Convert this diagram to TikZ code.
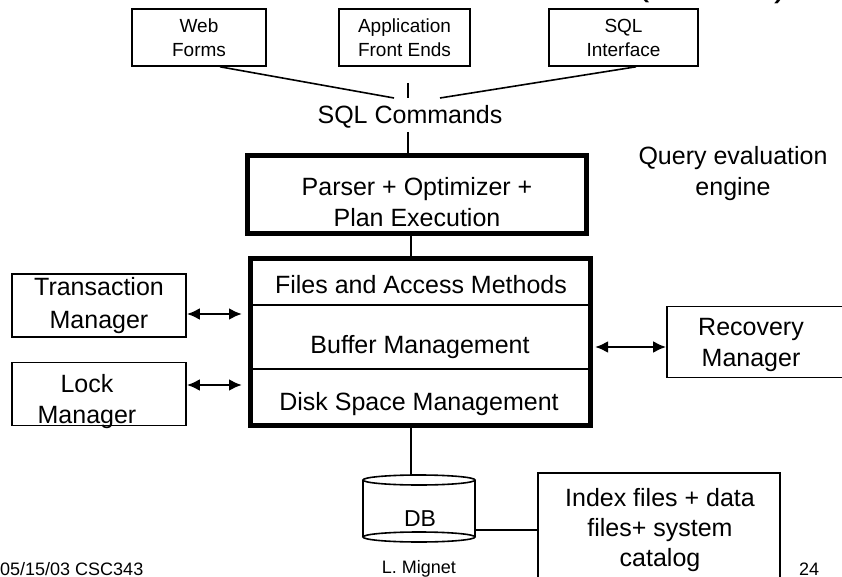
\documentclass[tikz,border=0pt]{standalone}
\usepackage{fontspec}
\setmainfont{Liberation Sans}
\usetikzlibrary{arrows.meta}

\tikzset{
    smallbox/.style={draw, line width=1.6pt, minimum height=57pt, align=center, font=\fontsize{19}{24}\selectfont},
    sidebox/.style={draw, line width=1.6pt, minimum width=174pt, minimum height=63pt},
    heavybox/.style={draw, line width=5pt},
    bigtext/.style={align=center, font=\fontsize{25}{31}\selectfont},
    foot/.style={font=\fontsize{18}{22}\selectfont},
    wire/.style={line width=1.6pt},
    dblarrow/.style={line width=2.6pt, {Latex[length=13pt,width=12pt]}-{Latex[length=13pt,width=12pt]}},
}

\begin{document}
\begin{tikzpicture}[x=1pt,y=-1pt]
        \useasboundingbox (0,0) rectangle (842,577);
        \clip (0,0) rectangle (842,577);

        \node[font=\fontsize{40}{48}\selectfont, anchor=base] (titleopen) at (643,-5) {(};
        \node[font=\fontsize{40}{48}\selectfont, anchor=base] (titleclose) at (781,-4) {)};

        \node[smallbox, minimum width=134pt] (web) at (199,37.5) {Web\\Forms};
        \node[smallbox, minimum width=131pt] (app) at (404.5,37.5) {Application\\Front Ends};
        \node[smallbox, minimum width=149pt] (sqlif) at (623.5,37.5) {SQL\\Interface};

        \coordinate (meet) at (408,98);
        \node[bigtext] (cmds) at (410,117) {SQL Commands};
        \draw[wire] ([xshift=21pt]web.south) -- ([xshift=-14pt]meet);
        \draw[wire] (meet |- app.south) ++(0,16) -- (meet);
        \draw[wire] ([xshift=12.5pt]sqlif.south) -- ([xshift=32pt]meet);

        \node[bigtext] (query) at (733,174) {Query evaluation\\engine};

        \node[heavybox, minimum width=339pt, minimum height=78pt] (parser) at (417,194.5) {};
        \node[bigtext] (parsetxt) at (417,202) {Parser + Optimizer +\\Plan Execution};
        \draw[wire] (cmds.south -| meet) -- (parser.north -| meet);

        \node[heavybox, minimum width=340pt, minimum height=167pt] (stack) at (420.5,342) {};
        \draw[wire] (stack.west |- 0,305) -- (stack.east |- 0,305);
        \draw[wire] (stack.west |- 0,369) -- (stack.east |- 0,369);
        \node[bigtext] (files) at (421,285) {Files and Access Methods};
        \node[bigtext] (buffer) at (420,347) {Buffer Management};
        \node[bigtext] (disk) at (419,404) {Disk Space Management};

        \coordinate (dbtop) at (411,475);
        \draw[wire] (parser.south -| dbtop) -- (stack.north -| dbtop);
        \draw[wire] (stack.south -| dbtop) -- (dbtop);

        \node[sidebox, font=\fontsize{25}{33}\selectfont, align=center] (trans) at (99,305.5) {Transaction\\Manager};
        \node[sidebox] (lock) at (99,394) {};
        \node[bigtext] (locktxt) at (87,402) {Lock\\Manager};
        \node[sidebox, minimum width=182pt, minimum height=71pt] (recov) at (758,342) {};
        \node[bigtext] (recovtxt) at (751,345) {Recovery\\Manager};

        \draw[dblarrow, shorten >=6pt] ([yshift=-8.5pt]trans.east) -- ([yshift=-8.5pt]trans.east -| stack.west);
        \draw[dblarrow, shorten >=6pt] ([yshift=9pt]lock.east) -- ([yshift=9pt]lock.east -| stack.west);
        \draw[dblarrow, shorten <=2pt] ([yshift=-5pt]recov.west -| stack.east) -- ([yshift=-5pt]recov.west);

        \draw[wire] (363,480) -- (363,537) (475,480) -- (475,537);
        \draw[wire] (419,480) ellipse [x radius=56, y radius=5];
        \draw[wire] (419,537) ellipse [x radius=56, y radius=5];
        \node[font=\fontsize{23}{28}\selectfont] (db) at (420,519) {DB};

        \node[draw, line width=1.6pt, minimum width=242pt, minimum height=127pt] (index) at (659,536.5) {};
        \node[align=center, font=\fontsize{25}{30}\selectfont] (indextxt) at (660,530.5) {Index files + data\\files+ system\\catalog};
        \coordinate (dbside) at (475,530);
        \draw[wire] (dbside) -- (dbside -| index.west);

        \node[foot, anchor=west, inner sep=0pt] (date) at (0,569) {05/15/03 CSC343};
        \node[foot] (author) at (419,569) {L. Mignet};
        \node[foot] (page) at (809,569) {24};
\end{tikzpicture}
\end{document}
